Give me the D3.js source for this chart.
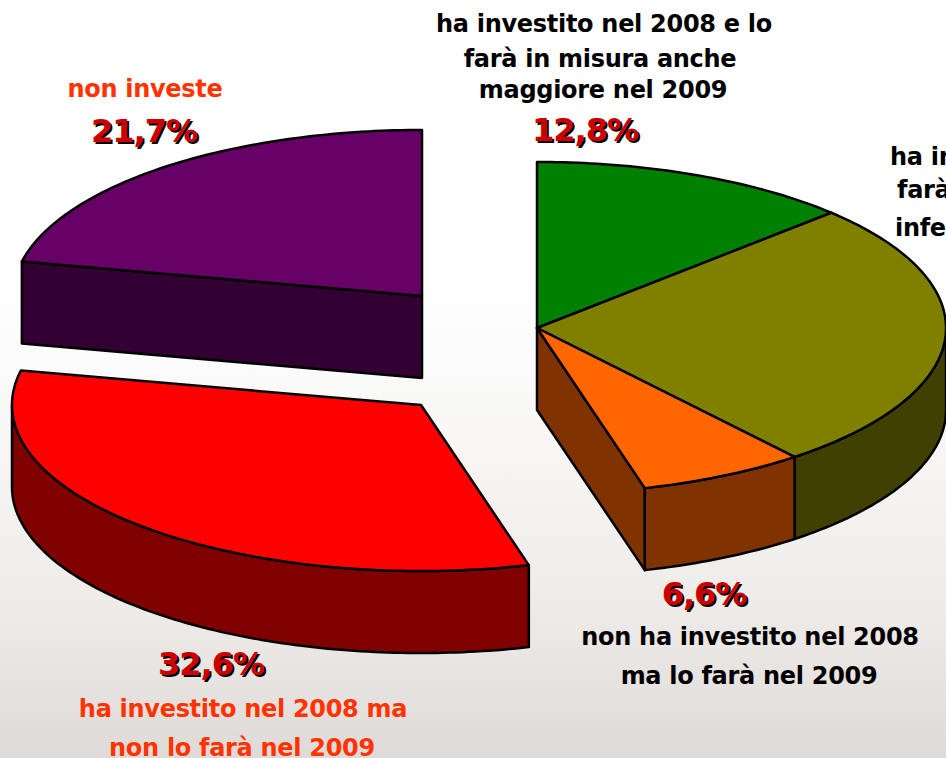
<!DOCTYPE html>
<html><head><meta charset="utf-8">
<script src="https://cdn.jsdelivr.net/npm/d3@7"></script>
<style>
html,body{margin:0;padding:0;overflow:hidden;width:946px;height:758px;background:#fff}
text{font-family:"DejaVu Sans",sans-serif;font-weight:700}
.pct{text-shadow:2px 2px 0 #000}
</style></head><body>
<svg id="c" width="946" height="758" viewBox="0 0 946 758"></svg>
<script>
const categories = [
  "ha investito nel 2008 e lo farà in misura anche maggiore nel 2009",
  "ha in… farà… infe…",
  "non ha investito nel 2008 ma lo farà nel 2009",
  "ha investito nel 2008 ma non lo farà nel 2009",
  "non investe"
];
const values = [12.8, 26.4, 6.6, 32.6, 21.7];
const topColors = ["#008000", "#808000", "#FF6600", "#FF0000", "#660066"];
const wallColors = ["#004000", "#404000", "#803300", "#800000", "#330033"];
const sliceCentres = [[537,328],[537,328],[537,328],[421,405],[422,296]];
const RX = 409, RY = 166, DEPTH = 82;

const labels = [
  {t:"ha investito nel 2008 e lo", x:604, y:32, c:"#000", a:"middle"},
  {t:"farà in misura anche", x:600, y:67, c:"#000", a:"middle"},
  {t:"maggiore nel 2009", x:603, y:98, c:"#000", a:"middle"},
  {t:"ha in", x:890, y:165, c:"#000", a:"start"},
  {t:"farà", x:897, y:198, c:"#000", a:"start"},
  {t:"infe", x:895, y:236, c:"#000", a:"start"},
  {t:"non investe", x:145, y:97, c:"#FF3300", a:"middle"},
  {t:"ha investito nel 2008 ma", x:243, y:717, c:"#FF3300", a:"middle"},
  {t:"non lo farà nel 2009", x:242, y:756, c:"#FF3300", a:"middle"},
  {t:"non ha investito nel 2008", x:750, y:645, c:"#000", a:"middle"},
  {t:"ma lo farà nel 2009", x:749, y:684, c:"#000", a:"middle"}
];
const pctLabels = [
  {t:"12,8%", x:585, y:141},
  {t:"21,7%", x:144, y:142},
  {t:"32,6%", x:211, y:675},
  {t:"6,6%", x:704, y:605}
];

const svg = d3.select("#c");
const grad = svg.append("defs").append("linearGradient")
  .attr("id","bg").attr("x1",0).attr("x2",0).attr("y1",0).attr("y2",1);
[[0,"#ffffff"],[0.36,"#ffffff"],[0.6,"#f7f6f5"],[0.8,"#eeebe8"],[1,"#dddad8"]]
  .forEach(([o,c])=>grad.append("stop").attr("offset",o).attr("stop-color",c));
svg.append("rect").attr("width",946).attr("height",758).attr("fill","url(#bg)");

const arcs = d3.pie().sort(null).startAngle(0).endAngle(2*Math.PI)(values);
const line = d3.line();
const sx = d3.scaleLinear().domain([-1,1]).range([-RX,RX]);
const sy = d3.scaleLinear().domain([-1,1]).range([RY,-RY]);
const pt = (a,c,dz=0)=>[c[0]+sx(Math.sin(a)), c[1]+sy(Math.cos(a))+dz];
const arcPts = (a0,a1,c,dz=0)=>{
  const n = Math.max(2,Math.ceil((a1-a0)*60));
  return d3.range(n+1).map(i=>pt(a0+(a1-a0)*i/n,c,dz));
};
const style = (sel,fill)=>sel.attr("fill",fill).attr("stroke","#000")
  .attr("stroke-width",2.5).attr("stroke-linejoin","round");

const order = [4,3,0,1,2];
order.forEach(i=>{
  const d = arcs[i], c = sliceCentres[i];
  const g = svg.append("g").attr("class","slice").attr("data-name",categories[i]);
  const next = sliceCentres[(i+1)%arcs.length], prev = sliceCentres[(i+arcs.length-1)%arcs.length];
  const radial = a=>{
    const p = pt(a,c);
    style(g.append("path").attr("d",line([c,p,[p[0],p[1]+DEPTH],[c[0],c[1]+DEPTH]])+"Z"),wallColors[i]);
  };
  if (Math.sin(d.endAngle)>1e-6 && next[0]!==c[0]) radial(d.endAngle);
  if (Math.sin(d.startAngle)<-1e-6 && prev[0]!==c[0]) radial(d.startAngle);
  const w0 = Math.max(d.startAngle,Math.PI/2), w1 = Math.min(d.endAngle,3*Math.PI/2);
  if (w1>w0) {
    const top = arcPts(w0,w1,c), bot = arcPts(w0,w1,c,DEPTH).reverse();
    style(g.append("path").attr("d",line(top.concat(bot))+"Z"),wallColors[i]);
  }
  style(g.append("path").attr("d",line([c].concat(arcPts(d.startAngle,d.endAngle,c)))+"Z"),topColors[i]);
});

svg.append("g").selectAll("text").data(labels).join("text")
  .attr("x",d=>d.x).attr("y",d=>d.y).attr("text-anchor",d=>d.a)
  .attr("fill",d=>d.c).attr("font-size",24).attr("letter-spacing",-0.3).text(d=>d.t);
svg.append("g").selectAll("text").data(pctLabels).join("text")
  .attr("class","pct").attr("x",d=>d.x).attr("y",d=>d.y).attr("text-anchor","middle")
  .attr("fill","#CC0000").attr("font-size",32).attr("letter-spacing",-1).text(d=>d.t);
</script></body></html>
